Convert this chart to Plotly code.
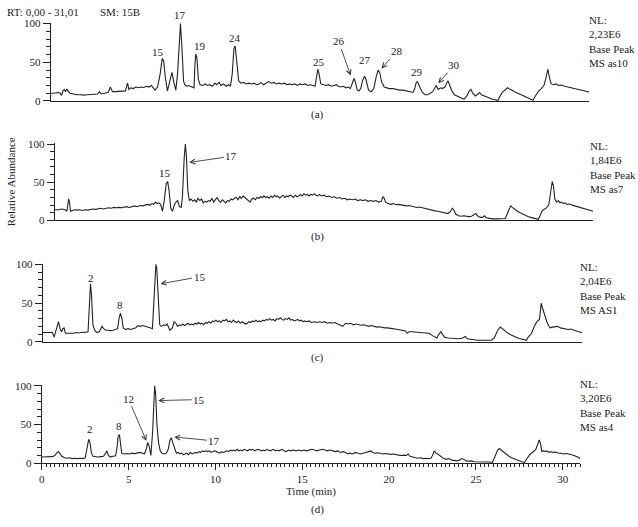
import plotly.graph_objects as go

# ---------------- data (time in min, relative abundance %) ----------------
trace_a = [
    (0.0, 10), (0.2, 10), (0.4, 11), (0.55, 10), (0.62, 7), (0.7, 13), (0.78, 15), (0.85, 12),
    (0.92, 15), (1.0, 13), (1.1, 10), (1.3, 9), (1.5, 8), (1.7, 8), (1.9, 7.5), (2.1, 8),
    (2.3, 8.5), (2.5, 9), (2.7, 9), (2.8, 12), (2.9, 9.5), (3.1, 10), (3.3, 11), (3.43, 18),
    (3.55, 12), (3.7, 12), (3.9, 12.5), (4.1, 13), (4.3, 13), (4.42, 23), (4.5, 15), (4.6, 17),
    (4.75, 16), (4.9, 18), (5.05, 17), (5.2, 18), (5.35, 17.5), (5.5, 19), (5.65, 18), (5.8, 20),
    (5.9, 17), (6.0, 14), (6.15, 18), (6.3, 35), (6.42, 55), (6.5, 52), (6.6, 30), (6.72, 13),
    (6.85, 25), (6.98, 37), (7.08, 25), (7.2, 14), (7.3, 35), (7.4, 80), (7.47, 100), (7.55, 70),
    (7.65, 25), (7.75, 20), (7.85, 19), (7.95, 20), (8.05, 19), (8.15, 18), (8.25, 17), (8.3, 45),
    (8.35, 61), (8.42, 55), (8.5, 28), (8.6, 21), (8.75, 20), (8.9, 22), (9.0, 20), (9.15, 21),
    (9.3, 19), (9.45, 23), (9.55, 21), (9.7, 24), (9.8, 20), (9.95, 22), (10.1, 19), (10.25, 21),
    (10.35, 19), (10.45, 35), (10.55, 68), (10.62, 71), (10.72, 50), (10.82, 26), (10.95, 23),
    (11.1, 24), (11.25, 22), (11.4, 23), (11.55, 22), (11.7, 23), (11.85, 21), (12.0, 22),
    (12.1, 24), (12.25, 21), (12.4, 23), (12.55, 25), (12.7, 23), (12.85, 24), (13.0, 22),
    (13.15, 23), (13.3, 22), (13.45, 23), (13.6, 21), (13.75, 22), (13.9, 21), (14.05, 22),
    (14.2, 20), (14.35, 22), (14.5, 21), (14.65, 22), (14.8, 20), (14.95, 21), (15.1, 20),
    (15.22, 19), (15.3, 30), (15.38, 41), (15.45, 35), (15.55, 22), (15.7, 21), (15.85, 20),
    (16.0, 21), (16.15, 19), (16.3, 20), (16.45, 21), (16.55, 19), (16.7, 18), (16.85, 19),
    (17.0, 17), (17.15, 18), (17.25, 16), (17.35, 22), (17.47, 29), (17.55, 24), (17.65, 14),
    (17.75, 13), (17.85, 16), (17.95, 26), (18.07, 32), (18.15, 28), (18.3, 14), (18.45, 12),
    (18.6, 16), (18.75, 32), (18.86, 40), (18.95, 36), (19.05, 25), (19.2, 18), (19.35, 17),
    (19.5, 16), (19.7, 16), (19.9, 15), (20.1, 14), (20.3, 14), (20.5, 12.5), (20.7, 12),
    (20.85, 11), (20.95, 15), (21.05, 24), (21.12, 25), (21.25, 18), (21.4, 11), (21.55, 8),
    (21.7, 8), (21.85, 10), (22.0, 12), (22.12, 17), (22.2, 20), (22.3, 15), (22.45, 17),
    (22.55, 16), (22.7, 18), (22.8, 23), (22.88, 26), (22.98, 20), (23.1, 13), (23.25, 8),
    (23.4, 6), (23.6, 4), (23.8, 2.5), (23.95, 6), (24.1, 13), (24.2, 15), (24.3, 10),
    (24.45, 6.5), (24.6, 9), (24.7, 11), (24.8, 8), (25.0, 6), (25.2, 4), (25.4, 2.5),
    (25.6, 1.5), (25.75, 0.5), (25.85, 5), (26.0, 11), (26.15, 14), (26.3, 17), (26.45, 15),
    (26.6, 13), (26.8, 11), (27.0, 9), (27.2, 7), (27.4, 5), (27.6, 3), (27.77, 1),
    (27.95, 8), (28.1, 13), (28.25, 16), (28.4, 20), (28.5, 28), (28.63, 41), (28.72, 30),
    (28.82, 22), (28.95, 21), (29.1, 22), (29.25, 20), (29.4, 20.5), (29.6, 19), (29.8, 18),
    (30.0, 16.5), (30.2, 15.5), (30.4, 14.5), (30.6, 13.5), (30.8, 12.5), (31.0, 11.5),
]

trace_b = [
    (0.0, 14), (0.2, 14), (0.4, 15), (0.6, 14), (0.7, 12), (0.75, 22), (0.8, 28), (0.85, 24),
    (0.9, 12), (1.0, 13), (1.15, 14), (1.3, 13.5), (1.45, 14), (1.6, 13), (1.75, 14), (1.9, 13.5),
    (2.05, 14), (2.2, 15), (2.35, 14.5), (2.5, 15), (2.65, 16), (2.8, 15), (2.95, 16), (3.1, 16.5),
    (3.25, 16), (3.4, 17), (3.55, 16.5), (3.7, 17), (3.85, 16.5), (4.0, 17.5), (4.15, 18),
    (4.3, 17), (4.45, 18.5), (4.6, 19), (4.75, 18), (4.9, 19.5), (5.05, 19), (5.2, 20),
    (5.35, 21), (5.5, 20), (5.6, 22), (5.7, 21), (5.8, 24), (5.9, 22), (6.0, 23), (6.1, 21),
    (6.2, 12), (6.3, 25), (6.42, 48), (6.5, 51), (6.58, 40), (6.68, 16), (6.78, 12), (6.88, 20),
    (6.98, 24), (7.08, 26), (7.18, 18), (7.28, 17), (7.35, 30), (7.45, 80), (7.52, 100),
    (7.58, 85), (7.66, 40), (7.75, 26), (7.85, 28), (7.95, 25), (8.05, 27), (8.15, 24),
    (8.25, 29), (8.35, 26), (8.45, 28), (8.55, 23), (8.65, 25), (8.75, 24), (8.85, 26),
    (8.95, 25), (9.05, 29), (9.15, 24), (9.25, 27), (9.35, 30), (9.45, 26), (9.55, 24),
    (9.65, 27), (9.75, 25), (9.85, 23), (9.95, 26), (10.05, 25), (10.15, 28), (10.25, 27),
    (10.35, 29), (10.45, 30), (10.55, 27), (10.65, 31), (10.75, 29), (10.85, 32), (10.95, 30),
    (11.05, 28), (11.15, 25), (11.25, 24), (11.35, 28), (11.45, 29), (11.55, 27), (11.65, 30),
    (11.75, 29), (11.85, 31), (11.95, 30), (12.05, 32), (12.15, 30), (12.25, 31), (12.35, 29),
    (12.45, 32), (12.55, 30), (12.65, 33), (12.75, 31), (12.85, 32), (12.95, 29), (13.05, 31),
    (13.15, 33), (13.25, 30), (13.35, 32), (13.45, 31), (13.55, 33), (13.65, 32), (13.75, 30),
    (13.85, 33), (13.95, 31), (14.05, 32), (14.15, 34), (14.25, 32), (14.35, 35), (14.45, 33),
    (14.55, 34), (14.65, 32), (14.75, 34), (14.85, 33), (14.95, 35), (15.05, 33), (15.15, 32),
    (15.25, 34), (15.35, 32), (15.5, 33), (15.65, 31), (15.8, 32), (15.95, 30), (16.1, 31),
    (16.25, 29), (16.4, 30), (16.55, 28), (16.7, 29), (16.85, 27), (17.0, 28), (17.15, 27),
    (17.3, 28), (17.45, 26), (17.6, 27), (17.75, 26), (17.9, 27), (18.05, 25), (18.2, 26),
    (18.35, 25), (18.5, 26), (18.65, 24), (18.8, 25), (18.9, 31), (18.98, 29), (19.05, 24),
    (19.2, 22), (19.35, 21), (19.5, 22), (19.65, 20.5), (19.8, 21), (19.95, 20), (20.1, 20),
    (20.25, 19), (20.4, 19.5), (20.55, 18.5), (20.7, 18), (20.85, 17), (21.0, 17.5),
    (21.15, 16.5), (21.3, 16), (21.45, 15), (21.6, 14.5), (21.75, 13), (21.9, 12.5), (22.05, 12),
    (22.2, 11), (22.35, 10.5), (22.5, 10), (22.65, 9), (22.8, 12), (22.9, 16), (23.0, 13),
    (23.1, 8), (23.25, 6), (23.4, 5.5), (23.55, 6), (23.7, 5), (23.85, 5), (24.0, 5.5),
    (24.15, 7), (24.25, 9), (24.35, 6), (24.5, 4), (24.65, 4), (24.75, 6), (24.85, 3.5),
    (25.0, 2.5), (25.2, 2), (25.4, 2), (25.6, 2), (25.8, 2), (25.95, 2.5), (26.05, 8),
    (26.15, 15), (26.25, 19), (26.35, 17), (26.5, 14), (26.65, 12), (26.8, 10), (26.95, 8),
    (27.1, 6.5), (27.25, 5), (27.4, 4), (27.55, 3), (27.7, 2.5), (27.85, 1.5), (27.95, 6),
    (28.05, 12), (28.15, 14), (28.3, 16), (28.45, 20), (28.55, 35), (28.65, 51), (28.72, 45),
    (28.8, 28), (28.9, 24), (29.0, 26), (29.1, 23), (29.2, 24), (29.3, 22), (29.4, 23),
    (29.5, 21), (29.65, 21.5), (29.8, 20), (29.95, 19), (30.1, 18), (30.25, 17), (30.4, 16),
    (30.55, 15), (30.7, 14), (30.85, 13), (31.0, 12),
]

trace_c = [
    (0.0, 12), (0.2, 12), (0.4, 12.5), (0.55, 12), (0.65, 6), (0.75, 15), (0.9, 26), (1.0, 16),
    (1.08, 13), (1.15, 17), (1.22, 18), (1.3, 11), (1.45, 11), (1.6, 11.5), (1.75, 11), (1.9, 12),
    (2.05, 11.5), (2.2, 12), (2.35, 12), (2.5, 12.5), (2.6, 13), (2.66, 40), (2.74, 75), (2.8, 60),
    (2.88, 22), (2.98, 15), (3.1, 12), (3.25, 13), (3.4, 20), (3.5, 17), (3.62, 15), (3.75, 15),
    (3.9, 14.5), (4.05, 15), (4.2, 16), (4.3, 17), (4.38, 30), (4.46, 37), (4.55, 30), (4.62, 18),
    (4.75, 16), (4.9, 17), (5.05, 16), (5.2, 17), (5.35, 18), (5.45, 21), (5.6, 20), (5.75, 21),
    (5.9, 20), (6.05, 20), (6.2, 18), (6.3, 17), (6.38, 50), (6.45, 88), (6.5, 100), (6.55, 95),
    (6.62, 55), (6.72, 22), (6.82, 20), (6.95, 22), (7.05, 21), (7.15, 23), (7.3, 15), (7.45, 18),
    (7.55, 26), (7.65, 24), (7.75, 20), (7.85, 22), (7.95, 21), (8.05, 23), (8.15, 21), (8.25, 22),
    (8.35, 24), (8.45, 22), (8.55, 23), (8.65, 22), (8.75, 24), (8.85, 23), (8.95, 25), (9.05, 23),
    (9.15, 24), (9.25, 22), (9.35, 25), (9.45, 24), (9.55, 26), (9.65, 24), (9.75, 27), (9.85, 26),
    (9.95, 28), (10.05, 26), (10.15, 27), (10.25, 25), (10.35, 28), (10.45, 27), (10.55, 29),
    (10.65, 26), (10.75, 27), (10.85, 25), (10.95, 28), (11.05, 26), (11.15, 25), (11.25, 27),
    (11.35, 24), (11.45, 26), (11.55, 25), (11.65, 23), (11.75, 24), (11.85, 26), (11.95, 25),
    (12.05, 27), (12.15, 26), (12.25, 28), (12.35, 26), (12.45, 27), (12.55, 26), (12.65, 28),
    (12.75, 27), (12.85, 29), (12.95, 28), (13.05, 30), (13.15, 28), (13.25, 29), (13.35, 27),
    (13.45, 30), (13.55, 29), (13.65, 31), (13.75, 29), (13.85, 28), (13.95, 30), (14.05, 29),
    (14.15, 31), (14.25, 28), (14.35, 29), (14.45, 27), (14.55, 28), (14.65, 29), (14.75, 27),
    (14.85, 28), (14.95, 26), (15.05, 27), (15.15, 26), (15.3, 27), (15.45, 25), (15.6, 26),
    (15.75, 25), (15.9, 26), (16.05, 25), (16.2, 26), (16.35, 24), (16.5, 25), (16.65, 24),
    (16.8, 25), (16.95, 23), (17.1, 22), (17.25, 20), (17.4, 24), (17.55, 23), (17.7, 24),
    (17.85, 22), (18.0, 23), (18.15, 22), (18.3, 21.5), (18.45, 22), (18.6, 21), (18.75, 20),
    (18.9, 21), (19.05, 20), (19.2, 19), (19.35, 19.5), (19.5, 18.5), (19.65, 18), (19.8, 18),
    (19.95, 17), (20.1, 17), (20.25, 16.5), (20.4, 16), (20.55, 15.5), (20.7, 15), (20.85, 14),
    (20.95, 11), (21.05, 13), (21.2, 13), (21.4, 12.5), (21.6, 12), (21.8, 12), (22.0, 11.5),
    (22.2, 11), (22.4, 8), (22.55, 6), (22.65, 5), (22.75, 9), (22.88, 13), (23.0, 9), (23.1, 6),
    (23.3, 5), (23.5, 4.5), (23.7, 4), (23.9, 4), (24.1, 4.5), (24.2, 6), (24.3, 7), (24.4, 4),
    (24.6, 3), (24.8, 2.5), (25.0, 2), (25.2, 2), (25.4, 2), (25.6, 1.8), (25.8, 2), (25.95, 5),
    (26.05, 10), (26.15, 15), (26.3, 19), (26.45, 16), (26.6, 13), (26.75, 11), (26.9, 9),
    (27.05, 7), (27.2, 6), (27.35, 4.5), (27.5, 3.5), (27.65, 2.5), (27.8, 2), (27.9, 6),
    (28.0, 9), (28.1, 11), (28.25, 20), (28.4, 26), (28.55, 29), (28.65, 50), (28.72, 44),
    (28.78, 39), (28.88, 30), (28.97, 26), (29.07, 21), (29.16, 18), (29.3, 19), (29.45, 20),
    (29.6, 20), (29.75, 18), (29.9, 17.5), (30.05, 17), (30.2, 16), (30.35, 16.5), (30.5, 15),
    (30.65, 14.5), (30.8, 13), (30.9, 12.5), (31.0, 12),
]

trace_d = [
    (0.0, 8), (0.2, 8), (0.4, 8), (0.6, 8.5), (0.75, 10), (0.88, 14), (0.97, 15), (1.05, 12),
    (1.15, 9), (1.3, 7), (1.45, 6.5), (1.6, 7), (1.75, 6), (1.9, 6.5), (2.05, 6), (2.2, 6.5),
    (2.35, 6), (2.5, 7), (2.58, 15), (2.7, 31), (2.78, 26), (2.86, 13), (2.95, 9), (3.1, 8),
    (3.25, 8), (3.4, 8.5), (3.55, 9), (3.65, 12), (3.75, 16), (3.83, 10), (3.95, 8), (4.1, 9),
    (4.25, 9.5), (4.33, 20), (4.4, 35), (4.47, 37), (4.53, 24), (4.6, 13), (4.75, 12),
    (4.9, 12.5), (5.05, 12), (5.2, 13), (5.35, 12.5), (5.5, 13), (5.65, 14), (5.8, 13), (5.9, 12),
    (6.0, 17), (6.1, 27), (6.18, 22), (6.28, 10), (6.38, 40), (6.45, 90), (6.5, 100), (6.56, 88),
    (6.63, 50), (6.72, 27), (6.82, 16), (6.92, 13), (7.05, 12), (7.18, 13), (7.28, 18), (7.38, 30),
    (7.46, 33), (7.55, 26), (7.65, 18), (7.75, 13), (7.85, 14), (7.95, 12), (8.05, 13), (8.15, 11),
    (8.25, 12), (8.35, 13), (8.45, 11), (8.55, 14), (8.65, 12), (8.75, 13), (8.85, 14), (8.95, 13),
    (9.05, 15), (9.15, 14), (9.25, 16), (9.35, 15), (9.45, 16), (9.55, 15), (9.65, 16), (9.75, 14),
    (9.85, 15), (9.95, 16), (10.05, 15), (10.15, 14), (10.25, 13), (10.35, 15), (10.45, 14),
    (10.55, 15), (10.65, 16), (10.75, 15), (10.85, 17), (10.95, 16), (11.05, 17), (11.15, 16),
    (11.25, 18), (11.35, 16), (11.45, 17), (11.55, 16), (11.65, 18), (11.75, 17), (11.85, 16),
    (11.95, 18), (12.05, 17), (12.15, 18), (12.25, 16), (12.35, 17), (12.45, 18), (12.55, 17),
    (12.65, 16), (12.75, 17), (12.85, 16), (12.95, 18), (13.05, 17), (13.15, 16), (13.25, 17),
    (13.35, 18), (13.45, 16), (13.55, 17), (13.65, 16), (13.75, 17), (13.85, 18), (13.95, 16),
    (14.05, 15), (14.15, 16), (14.25, 17), (14.35, 16), (14.5, 17), (14.65, 16), (14.8, 17),
    (14.95, 16), (15.1, 17), (15.25, 16), (15.4, 17), (15.55, 18), (15.7, 17), (15.85, 16),
    (16.0, 17), (16.15, 18), (16.3, 17), (16.45, 16), (16.6, 17), (16.75, 16), (16.9, 15),
    (17.05, 16), (17.2, 14), (17.35, 15), (17.5, 14), (17.6, 12), (17.75, 13), (17.9, 12),
    (18.05, 14), (18.2, 13), (18.35, 12), (18.5, 13), (18.65, 14), (18.8, 15), (18.95, 16),
    (19.05, 14), (19.2, 13), (19.35, 13.5), (19.5, 13), (19.65, 12), (19.8, 12.5), (19.95, 12),
    (20.1, 11.5), (20.25, 12), (20.4, 11), (20.55, 10.5), (20.7, 10), (20.85, 10.5), (21.0, 10),
    (21.1, 12), (21.2, 9), (21.35, 8), (21.5, 7), (21.65, 6.5), (21.8, 7), (21.95, 6), (22.1, 6.5),
    (22.25, 6), (22.4, 6.5), (22.5, 10), (22.6, 16), (22.7, 13), (22.8, 12), (22.9, 10), (23.0, 8),
    (23.15, 6), (23.3, 5), (23.45, 6), (23.6, 4), (23.75, 3.5), (23.9, 3), (24.05, 4), (24.2, 6),
    (24.3, 5), (24.45, 3), (24.6, 2.5), (24.75, 3), (24.9, 2), (25.05, 2), (25.2, 1.5), (25.4, 2),
    (25.6, 1.5), (25.8, 1.5), (25.95, 1), (26.05, 6), (26.15, 12), (26.25, 17), (26.35, 19),
    (26.45, 17), (26.6, 14), (26.75, 11), (26.9, 9), (27.05, 7), (27.2, 5.5), (27.35, 4),
    (27.5, 3), (27.65, 2), (27.8, 1), (27.9, 5), (28.0, 8), (28.1, 11), (28.2, 13), (28.35, 16),
    (28.45, 18), (28.55, 24), (28.65, 30), (28.72, 25), (28.8, 15), (28.9, 16), (29.0, 15),
    (29.1, 16), (29.2, 14), (29.3, 15), (29.45, 14), (29.6, 14.5), (29.75, 13), (29.9, 13),
    (30.05, 12), (30.2, 12.5), (30.35, 12), (30.5, 11), (30.65, 10), (30.8, 9), (30.95, 7),
    (31.0, 6),
]

nl_texts = ["NL:<br>2,23E6<br>Base Peak<br>MS as10",
            "NL:<br>1,84E6<br>Base Peak<br>MS as7",
            "NL:<br>2,04E6<br>Base Peak<br>MS AS1",
            "NL:<br>3,20E6<br>Base Peak<br>MS as4"]
panel_tags = ["(a)", "(b)", "(c)", "(d)"]
x_ticks = [0, 5, 10, 15, 20, 25, 30]
y_ticks = [0, 50, 100]

# peak labels without arrows: (panel, time, abundance, text)
peak_labels = [
    (0, 6.2, 63, "15"), (0, 7.46, 111, "17"), (0, 8.6, 71, "19"), (0, 10.6, 82, "24"),
    (0, 15.43, 51, "25"), (0, 18.07, 53, "27"), (0, 21.1, 37, "29"),
    (1, 6.37, 62, "15"),
    (2, 2.75, 83, "2"), (2, 4.42, 47, "8"),
    (3, 2.75, 44, "2"), (3, 4.42, 48, "8"),
]
# peak labels with arrows: (panel, head time, head abundance, text dx px, text dy px, text)
arrow_labels = [
    (0, 17.27, 33, -12, -34, "26"), (0, 19.05, 42, 15, -17, "28"), (0, 22.32, 23, 16, -18, "30"),
    (1, 7.75, 76, 42, -6, "17"),
    (2, 6.77, 75, 39, -7, "15"),
    (3, 6.02, 29, -18, -42, "12"), (3, 6.71, 81, 41, -1, "15"), (3, 7.63, 34, 40, 4, "17"),
]

# ---------------- layout geometry (pixels) ----------------
W, H = 638, 527
panels = [  # x left, x right, y pixel of 0, px per unit, NL text x, NL text top, tag y
    dict(x0=48, x1=589, y0=98, s=0.79, nlx=587, nly=7, tagy=112),
    dict(x0=52, x1=593, y0=220, s=0.78, nlx=588, nly=136, tagy=236),
    dict(x0=40, x1=582, y0=344, s=0.79, nlx=578, nly=259, tagy=360),
    dict(x0=39, x1=580, y0=468, s=0.79, nlx=578, nly=379, tagy=515),
]
YTOP = 101
XMAX = 31.01
FONT = "Liberation Serif"
FS = 11
INK = "#222222"

def px(x):
    return x / W

def py(y):
    return 1 - y / H

fig = go.Figure()
traces = [trace_a, trace_b, trace_c, trace_d]
annotations = []
layout = {}
for i, (tr, p) in enumerate(zip(traces, panels)):
    k = "" if i == 0 else str(i + 1)
    ts = [a for a, b in tr]
    vs = [b for a, b in tr]
    fig.add_trace(go.Scatter(x=ts, y=vs, mode="lines", xaxis="x" + k, yaxis="y" + k,
                             line=dict(color=INK, width=1.1), showlegend=False, hoverinfo="skip"))
    top_px = p["y0"] - YTOP * p["s"]
    xa = dict(domain=[px(p["x0"]), px(p["x1"])], range=[0, XMAX], showgrid=False,
              zeroline=False, showline=True, linecolor=INK, linewidth=1, anchor="y" + k,
              fixedrange=True)
    if i == 3:
        xa.update(tickvals=x_ticks, ticks="outside", ticklen=6, tickcolor=INK, tickwidth=1,
                  tickfont=dict(family=FONT, size=FS, color=INK),
                  minor=dict(dtick=0.25, tick0=0, ticks="outside", ticklen=3,
                             tickcolor=INK, tickwidth=1))
    else:
        xa.update(showticklabels=False, ticks="")
    ya = dict(domain=[py(p["y0"]), py(top_px)], range=[0, YTOP], showgrid=False,
              zeroline=False, showline=True, linecolor=INK, linewidth=1, anchor="x" + k,
              tickvals=y_ticks, ticks="outside", ticklen=7, tickcolor=INK, tickwidth=1,
              tickfont=dict(family=FONT, size=FS, color=INK), fixedrange=True,
              minor=dict(dtick=10, tick0=0, ticks="outside", ticklen=4, tickcolor=INK,
                         tickwidth=1))
    layout["xaxis" + k] = xa
    layout["yaxis" + k] = ya
    annotations.append(dict(text=nl_texts[i], xref="paper", yref="paper", x=px(p["nlx"]),
                            y=py(p["nly"]), xanchor="left", yanchor="top", align="left",
                            showarrow=False, font=dict(family=FONT, size=FS, color=INK)))
    annotations.append(dict(text=panel_tags[i], xref="paper", yref="paper",
                            x=px(316), y=py(p["tagy"]), xanchor="center", yanchor="middle",
                            showarrow=False, font=dict(family=FONT, size=FS, color=INK)))

for (i, t, v, s) in peak_labels:
    k = "" if i == 0 else str(i + 1)
    if v <= YTOP:
        pos = dict(xref="x" + k, yref="y" + k, x=t, y=v)
    else:
        # label sits above the axis range: place it via the axis domains instead
        pos = dict(xref="x" + k + " domain", yref="y" + k + " domain",
                   x=t / XMAX, y=v / YTOP)
    annotations.append(dict(text=s, showarrow=False, xanchor="center", yanchor="middle",
                            font=dict(family=FONT, size=FS, color=INK), **pos))
for (i, t, v, dx, dy, s) in arrow_labels:
    k = "" if i == 0 else str(i + 1)
    annotations.append(dict(text=s, xref="x" + k, yref="y" + k, x=t, y=v, ax=dx, ay=dy,
                            showarrow=True, arrowhead=5, arrowsize=1.2, arrowwidth=0.8,
                            arrowcolor=INK, standoff=0, startstandoff=0,
                            font=dict(family=FONT, size=FS, color=INK)))

annotations += [
    dict(text="RT: 0,00 - 31,01", xref="paper", yref="paper", x=px(2), y=py(-1),
         xanchor="left", yanchor="top", showarrow=False, font=dict(family=FONT, size=FS, color=INK)),
    dict(text="SM: 15B", xref="paper", yref="paper", x=px(95), y=py(-1),
         xanchor="left", yanchor="top", showarrow=False, font=dict(family=FONT, size=FS, color=INK)),
    dict(text="Relative Abundance", xref="paper", yref="paper", x=px(8), y=py(180),
         xanchor="center", yanchor="middle", textangle=-90, showarrow=False,
         font=dict(family=FONT, size=FS, color=INK)),
    dict(text="Time (min)", xref="paper", yref="paper", x=px(309), y=py(497),
         xanchor="center", yanchor="middle", showarrow=False,
         font=dict(family=FONT, size=FS, color=INK)),
]

fig.update_layout(width=W, height=H, margin=dict(l=0, r=0, t=0, b=0),
                  paper_bgcolor="white", plot_bgcolor="white", annotations=annotations,
                  **layout)
fig.write_html("out.html", config={"displayModeBar": False},
               post_script="document.body.style.margin='0';document.body.style.overflow='hidden';")
